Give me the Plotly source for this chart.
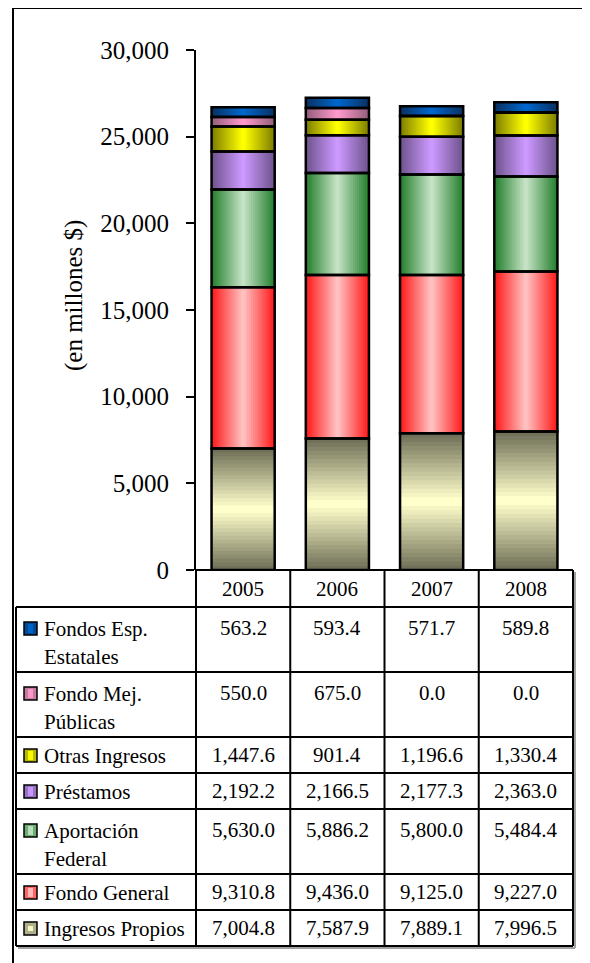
import plotly.graph_objects as go

# ---------------- data ----------------
years = ["2005", "2006", "2007", "2008"]
series_names = ["Ingresos Propios", "Fondo General", "Aportación Federal", "Préstamos",
                "Otras Ingresos", "Fondo Mej. Públicas", "Fondos Esp. Estatales"]
table_labels = ["Ingresos Propios", "Fondo General", "Aportación<br>Federal", "Préstamos",
                "Otras Ingresos", "Fondo Mej.<br>Públicas", "Fondos Esp.<br>Estatales"]
ingresos_propios = [7004.8, 7587.9, 7889.1, 7996.5]
fondo_general = [9310.8, 9436.0, 9125.0, 9227.0]
aportacion_federal = [5630.0, 5886.2, 5800.0, 5484.4]
prestamos = [2192.2, 2166.5, 2177.3, 2363.0]
otras_ingresos = [1447.6, 901.4, 1196.6, 1330.4]
fondo_mej = [550.0, 675.0, 0.0, 0.0]
fondos_esp = [563.2, 593.4, 571.7, 589.8]
series_values = [ingresos_propios, fondo_general, aportacion_federal, prestamos,
                 otras_ingresos, fondo_mej, fondos_esp]
y_ticks = [0, 5000, 10000, 15000, 20000, 25000, 30000]

# ---------------- styles ----------------
edge_colors = [(112, 112, 88), (255, 28, 28), (38, 128, 48), (112, 84, 142),
               (128, 128, 0), (150, 96, 124), (10, 50, 100)]
center_colors = [(255, 255, 204), (255, 192, 192), (196, 226, 196), (204, 153, 255),
                 (255, 255, 0), (255, 153, 204), (0, 102, 204)]
vertical_grad = [True, False, False, False, False, False, False]

FONT = "Liberation Serif, Times New Roman, Times, serif"
OFF = 8                      # page body margin
W, H = 590 - OFF, 963 - OFF
PLOT_L, PLOT_R, PLOT_T, PLOT_B = 196, 573, 50, 570   # screen pixels
L, T = PLOT_L - OFF, PLOT_T - OFF
R, B = W - (PLOT_R - OFF), H - (PLOT_B - OFF)
PW, PH = W - L - R, H - T - B
BW = 0.67
N = 16


def px(xs):
    return (xs - PLOT_L) / PW


def py(ys):
    return (PLOT_B - ys) / PH


def colx(i):
    return px(PLOT_L + (i + 0.5) * PW / len(years))


def lerp(a, b, t):
    return "rgb(%d,%d,%d)" % tuple(round(a[i] + (b[i] - a[i]) * t) for i in range(3))


fig = go.Figure()
bottoms = [0.0] * len(years)
outline_traces = []
for s, vals in enumerate(series_values):
    e, c = edge_colors[s], center_colors[s]
    for k in range(N):
        t = k / (N - 1)
        f = 1 - k / N
        if vertical_grad[s]:
            yv = [v * f for v in vals]
            base = [b + v * (1 - f) / 2 for b, v in zip(bottoms, vals)]
            w = BW
        else:
            yv = list(vals)
            base = list(bottoms)
            w = BW * f
        fig.add_trace(go.Bar(x=years, y=yv, base=base, width=w,
                             marker=dict(color=lerp(e, c, t), line=dict(width=0)),
                             hoverinfo="skip", showlegend=False))
    outline_traces.append(go.Bar(x=years, y=list(vals), base=list(bottoms), width=BW,
                                 marker=dict(color="rgba(0,0,0,0)",
                                             line=dict(color="black", width=2.5)),
                                 name=series_names[s], showlegend=False))
    bottoms = [b + v for b, v in zip(bottoms, vals)]
for tr in outline_traces:
    fig.add_trace(tr)

shapes = []
annotations = []

# outer chart border (right and bottom edges fall outside the picture)
shapes.append(dict(type="rect", xref="paper", yref="paper",
                   x0=px(13), x1=px(620), y0=py(8), y1=py(1000),
                   line=dict(color="black", width=2), fillcolor="rgba(0,0,0,0)", layer="above"))

# ---------------- data table ----------------
header_top, header_bot = 570, 607
row_order = list(range(len(series_names)))[::-1]
row_heights = [65 if "<br>" in table_labels[s] else 36 for s in row_order]
row_tops = [header_bot]
for h in row_heights:
    row_tops.append(row_tops[-1] + h)
table_bot = row_tops[-1]
tab_left = 16

LINE = dict(color="black", width=2)
SHADOW = dict(color="#a0a0a0", width=2)
shapes.append(dict(type="line", xref="paper", yref="paper", x0=px(PLOT_R + 2), x1=px(PLOT_R + 2),
                   y0=py(header_top + 2), y1=py(table_bot + 2), line=SHADOW))
shapes.append(dict(type="line", xref="paper", yref="paper", x0=px(tab_left + 2), x1=px(PLOT_R + 2),
                   y0=py(table_bot + 2), y1=py(table_bot + 2), line=SHADOW))
shapes.append(dict(type="line", xref="paper", yref="paper", x0=0, x1=1,
                   y0=py(header_top), y1=py(header_top), line=LINE, layer="above"))
for yt in row_tops:
    shapes.append(dict(type="line", xref="paper", yref="paper", x0=px(tab_left), x1=1,
                       y0=py(yt), y1=py(yt), line=LINE))
for i in range(len(years) + 1):
    xc = px(PLOT_L + i * PW / len(years))
    shapes.append(dict(type="line", xref="paper", yref="paper", x0=xc, x1=xc,
                       y0=py(header_top), y1=py(table_bot), line=LINE))
shapes.append(dict(type="line", xref="paper", yref="paper", x0=px(tab_left), x1=px(tab_left),
                   y0=py(header_bot), y1=py(table_bot), line=LINE))

TFONT = dict(family=FONT, size=21, color="black")
for i, yr in enumerate(years):
    annotations.append(dict(x=colx(i), y=py((header_top + header_bot) / 2),
                            xref="paper", yref="paper",
                            text=yr, showarrow=False, font=TFONT, xanchor="center", yanchor="middle"))

for r, s in enumerate(row_order):
    top = row_tops[r]
    lines = table_labels[s].split("<br>")
    first = top + (22 if len(lines) > 1 else 19)
    for j, ln in enumerate(lines):
        annotations.append(dict(x=px(42), y=py(first + 28 * j), xref="paper", yref="paper",
                                text=ln, showarrow=False, font=TFONT,
                                xanchor="left", yanchor="middle"))
    for i in range(len(years)):
        annotations.append(dict(x=colx(i), y=py(first - 1), xref="paper", yref="paper",
                                text=f"{series_values[s][i]:,.1f}", showarrow=False, font=TFONT,
                                xanchor="center", yanchor="middle"))
    e, c = edge_colors[s], center_colors[s]
    kx0, kx1 = 24, 37
    ky0, ky1 = first - 7, first + 6
    shapes.append(dict(type="rect", xref="paper", yref="paper", x0=px(kx0), x1=px(kx1),
                       y0=py(ky0), y1=py(ky1), fillcolor=lerp(e, c, 0.45),
                       line=dict(color="black", width=1.5)))
    shapes.append(dict(type="rect", xref="paper", yref="paper", x0=px(kx0 + 4), x1=px(kx1 - 4),
                       y0=py(ky0 + 2) if not vertical_grad[s] else py(ky0 + 4),
                       y1=py(ky1 - 2) if not vertical_grad[s] else py(ky1 - 4),
                       fillcolor=lerp(e, c, 0.95), line=dict(width=0)))

annotations.append(dict(x=px(74), y=py(295), xref="paper", yref="paper",
                        text="(en millones $)", textangle=-90, showarrow=False,
                        font=dict(family=FONT, size=25, color="black"),
                        xanchor="center", yanchor="middle"))

fig.update_layout(
    width=W, height=H,
    margin=dict(l=L, r=R, t=T, b=B, pad=0),
    paper_bgcolor="white", plot_bgcolor="white",
    barmode="overlay",
    showlegend=False,
    font=dict(family=FONT, color="black"),
    shapes=shapes,
    annotations=annotations,
    xaxis=dict(type="category", categoryorder="array", categoryarray=years,
               range=[-0.5, len(years) - 0.5], showticklabels=False, ticks="",
               showline=False, showgrid=False, zeroline=False, fixedrange=True),
    yaxis=dict(range=[0, 30000], tickvals=y_ticks, tickformat=",", ticks="outside",
               ticklen=8, tickwidth=2, tickcolor="black", showline=True, linecolor="black",
               linewidth=2, showgrid=False, zeroline=False,
               tickfont=dict(family=FONT, size=25, color="black"),
               ticklabelstandoff=12, fixedrange=True),
)

fig.write_html("out.html")
